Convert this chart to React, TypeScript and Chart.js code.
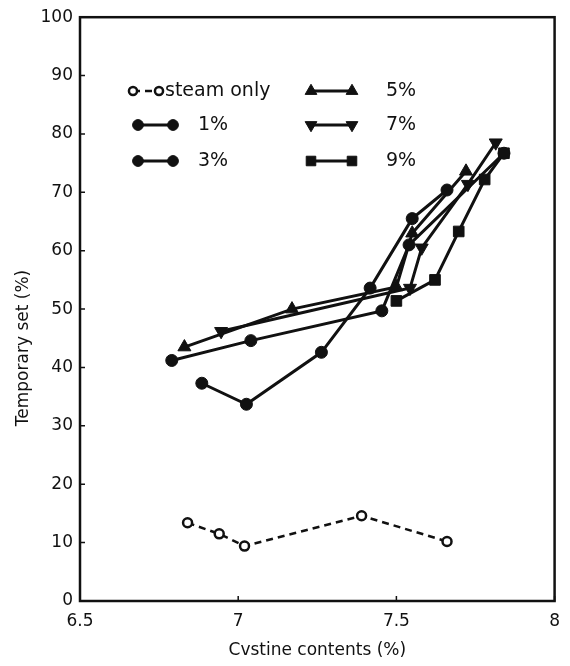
import React, { useEffect, useRef } from "react";
import { Chart, registerables } from "chart.js";

Chart.register(...registerables);

// ---- data ----
const xTicks = [6.5, 7, 7.5, 8];
const xTickLabels = ["6.5", "7", "7.5", "8"];
const yTicks = [0, 10, 20, 30, 40, 50, 60, 70, 80, 90, 100];

const seriesLabels = ["steam only", "1%", "3%", "5%", "7%", "9%"];

const steamX = [6.84, 6.94, 7.02, 7.39, 7.66];
const steamY = [13.4, 11.5, 9.4, 14.6, 10.2];

const p1X = [6.885, 7.026, 7.263, 7.417, 7.55, 7.66];
const p1Y = [37.3, 33.7, 42.6, 53.6, 65.5, 70.4];

const p3X = [6.79, 7.04, 7.454, 7.54, 7.84];
const p3Y = [41.2, 44.6, 49.7, 61.0, 76.7];

const p5X = [6.83, 7.17, 7.5, 7.55, 7.72];
const p5Y = [43.5, 50.0, 53.8, 63.0, 73.6];

const p7X = [6.946, 7.543, 7.58, 7.726, 7.814];
const p7Y = [46.2, 53.6, 60.5, 71.4, 78.5];

const p9X = [7.5, 7.622, 7.697, 7.779, 7.84];
const p9Y = [51.4, 55.0, 63.3, 72.2, 76.7];

const xTitle = "Cvstine contents (%)";
const yTitle = "Temporary set (%)";

const INK = "#111111";
const FONT = "'DejaVu Sans', sans-serif";

const pts = (xs: number[], ys: number[]) => xs.map((x, i) => ({ x, y: ys[i] }));

function drawMarker(
  ctx: CanvasRenderingContext2D,
  style: string,
  x: number,
  y: number,
  r: number,
  rot: number,
  fill: string,
  bw: number
) {
  ctx.save();
  ctx.translate(x, y);
  ctx.rotate((rot * Math.PI) / 180);
  ctx.beginPath();
  if (style === "circle") {
    ctx.arc(0, 0, r, 0, Math.PI * 2);
  } else if (style === "triangle") {
    let a = 0;
    ctx.moveTo(Math.sin(a) * r, -Math.cos(a) * r);
    a += (2 * Math.PI) / 3;
    ctx.lineTo(Math.sin(a) * r, -Math.cos(a) * r);
    a += (2 * Math.PI) / 3;
    ctx.lineTo(Math.sin(a) * r, -Math.cos(a) * r);
    ctx.closePath();
  } else {
    const s = r * Math.SQRT1_2;
    ctx.rect(-s, -s, 2 * s, 2 * s);
  }
  ctx.fillStyle = fill;
  ctx.fill();
  ctx.lineWidth = bw;
  ctx.strokeStyle = INK;
  ctx.stroke();
  ctx.restore();
}

const legendLayout = [
  { x1: 133, x2: 159, y: 91, tx: 165 },
  { x1: 138, x2: 173, y: 125, tx: 198 },
  { x1: 138, x2: 173, y: 161, tx: 198 },
  { x1: 311, x2: 352, y: 91, tx: 386 },
  { x1: 311, x2: 352, y: 125, tx: 386 },
  { x1: 311, x2: 352, y: 161, tx: 386 },
];

const framePlugin = {
  id: "frameLegend",
  afterDraw(chart: any) {
    const { ctx, chartArea: a, scales } = chart;
    const xs = scales.x;
    const ys = scales.y;
    ctx.save();
    ctx.strokeStyle = INK;
    ctx.lineWidth = 2.5;
    ctx.strokeRect(a.left, a.top, a.right - a.left, a.bottom - a.top);
    ctx.lineWidth = 1.5;
    ctx.beginPath();
    yTicks.forEach((v) => {
      const py = ys.getPixelForValue(v);
      ctx.moveTo(a.left, py);
      ctx.lineTo(a.left + 5, py);
    });
    xTicks.forEach((v) => {
      const px = xs.getPixelForValue(v);
      ctx.moveTo(px, a.bottom);
      ctx.lineTo(px, a.bottom - 5);
    });
    ctx.stroke();

    // axis titles
    ctx.fillStyle = INK;
    ctx.font = `17px ${FONT}`;
    ctx.textAlign = "center";
    ctx.textBaseline = "middle";
    ctx.fillText(xTitle, (a.left + a.right) / 2, 651);
    ctx.save();
    ctx.translate(24, 348);
    ctx.rotate(-Math.PI / 2);
    ctx.fillText(yTitle, 0, 0);
    ctx.restore();

    // legend
    chart.data.datasets.forEach((ds: any, i: number) => {
      const L = legendLayout[i];
      ctx.save();
      ctx.strokeStyle = INK;
      ctx.lineWidth = ds.borderWidth;
      ctx.setLineDash(ds.borderDash || []);
      ctx.beginPath();
      ctx.moveTo(L.x1, L.y);
      ctx.lineTo(L.x2, L.y);
      ctx.stroke();
      ctx.setLineDash([]);
      const r = ds.pointRadius * 0.9;
      drawMarker(ctx, ds.pointStyle, L.x1, L.y, r, ds.pointRotation || 0, ds.pointBackgroundColor, ds.pointBorderWidth);
      drawMarker(ctx, ds.pointStyle, L.x2, L.y, r, ds.pointRotation || 0, ds.pointBackgroundColor, ds.pointBorderWidth);
      ctx.fillStyle = INK;
      ctx.font = `19px ${FONT}`;
      ctx.textAlign = "left";
      ctx.textBaseline = "middle";
      ctx.fillText(ds.label, L.tx, L.y);
      ctx.restore();
    });
    ctx.restore();
  },
};

export default function App() {
  const ref = useRef<HTMLCanvasElement>(null);
  useEffect(() => {
    document.body.style.margin = "0";
    const canvas = ref.current!;
    const base = {
      showLine: true,
      fill: false,
      borderColor: INK,
      borderWidth: 3,
      pointBorderColor: INK,
      pointBorderWidth: 1,
      pointBackgroundColor: INK,
      tension: 0,
    };
    const chart = new Chart(canvas, {
      type: "scatter",
      data: {
        datasets: [
          {
            ...base,
            label: seriesLabels[0],
            data: pts(steamX, steamY),
            borderWidth: 2.5,
            borderDash: [7, 5],
            pointStyle: "circle",
            pointRadius: 4.5,
            pointBorderWidth: 2.5,
            pointBackgroundColor: "#ffffff",
          },
          { ...base, label: seriesLabels[1], data: pts(p1X, p1Y), pointStyle: "circle", pointRadius: 6 },
          { ...base, label: seriesLabels[2], data: pts(p3X, p3Y), pointStyle: "circle", pointRadius: 6 },
          { ...base, label: seriesLabels[3], data: pts(p5X, p5Y), pointStyle: "triangle", pointRadius: 7.5 },
          {
            ...base,
            label: seriesLabels[4],
            data: pts(p7X, p7Y),
            pointStyle: "triangle",
            pointRadius: 7.5,
            pointRotation: 180,
          },
          { ...base, label: seriesLabels[5], data: pts(p9X, p9Y), pointStyle: "rect", pointRadius: 7.5 },
        ],
      } as any,
      options: {
        animation: false,
        responsive: false,
        maintainAspectRatio: false,
        layout: { padding: { top: 17, right: 9, left: 0, bottom: 0 } },
        plugins: { legend: { display: false }, tooltip: { enabled: false } },
        scales: {
          x: {
            type: "linear",
            min: 6.5,
            max: 8,
            afterBuildTicks: (s: any) => {
              s.ticks = xTicks.map((v) => ({ value: v }));
            },
            afterFit: (s: any) => {
              s.height = 65;
            },
            grid: { display: false, drawTicks: false },
            border: { display: false },
            ticks: {
              color: INK,
              font: { family: FONT, size: 17 },
              padding: 10,
              maxRotation: 0,
              callback: (_v: any, i: number) => xTickLabels[i],
            },
          },
          y: {
            type: "linear",
            min: 0,
            max: 100,
            afterBuildTicks: (s: any) => {
              s.ticks = yTicks.map((v) => ({ value: v }));
            },
            afterFit: (s: any) => {
              s.width = 80;
            },
            grid: { display: false, drawTicks: false },
            border: { display: false },
            ticks: { color: INK, font: { family: FONT, size: 17 }, padding: 7 },
          },
        },
      } as any,
      plugins: [framePlugin],
    });
    return () => chart.destroy();
  }, []);
  return (
    <div style={{ width: 570, height: 666 }}>
      <canvas ref={ref} width={570} height={666} style={{ display: "block" }} />
    </div>
  );
}
